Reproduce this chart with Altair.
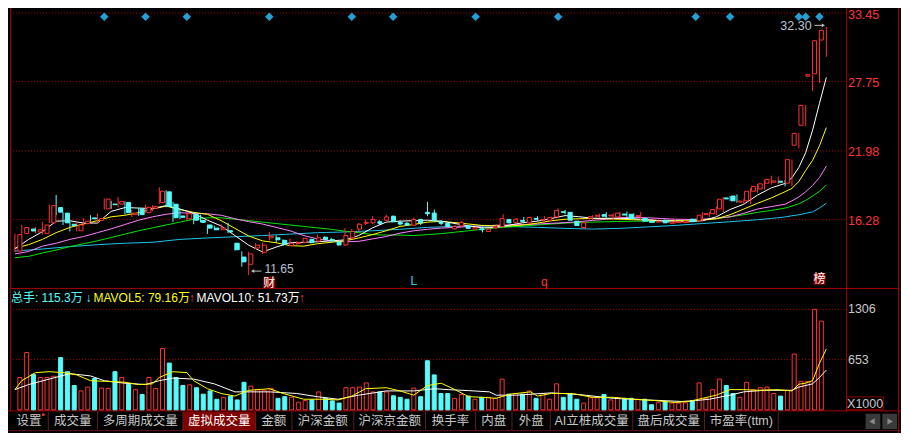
import altair as alt
import pandas as pd

# ---------------- data ----------------
opens = [13.64, 15.11, 15.47, 15.23, 15.11, 15.99, 17.26, 16.80, 15.87, 15.33,
         15.92, 16.40, 16.19, 17.15, 17.55, 17.55, 17.68, 16.67, 17.15, 16.83,
         17.20, 17.68, 18.57, 17.54, 16.56, 16.32, 16.67, 16.19, 15.81, 15.55,
         15.41, 15.33, 14.29, 13.14, 12.54, 13.89, 13.54, 14.74, 14.74, 14.53,
         14.10, 14.26, 14.37, 14.61, 14.47, 14.79, 14.61, 14.39, 14.15, 14.74,
         15.47, 15.95, 15.99, 16.08, 16.21, 16.54, 16.03, 15.95, 15.79, 16.27,
         16.86, 16.80, 16.08, 15.95, 15.49, 15.73, 15.73, 15.47, 15.49, 15.27,
         15.57, 15.68, 16.27, 16.03, 16.19, 15.99, 16.35, 16.21, 16.21, 16.48,
         16.91, 16.86, 16.13, 15.60, 16.38, 16.54, 16.67, 16.56, 16.48, 16.72,
         16.70, 16.51, 16.35, 16.11, 16.05, 16.21, 15.95, 16.01, 16.01, 16.29,
         16.16, 16.67, 16.75, 17.15, 18.06, 18.22, 17.72, 17.82, 18.62, 18.81,
         19.29, 19.37, 19.45, 19.29, 22.45, 24.11, 28.20, 28.40, 31.21]
closes = [15.01, 15.60, 15.31, 15.41, 15.81, 17.42, 16.88, 15.99, 15.76, 15.81,
          16.13, 16.32, 16.35, 17.96, 17.50, 17.76, 16.83, 16.80, 16.67, 17.28,
          17.34, 18.62, 17.36, 16.41, 16.45, 16.75, 16.21, 16.03, 15.55, 15.41,
          15.55, 15.23, 13.75, 12.74, 13.40, 14.13, 14.13, 14.87, 14.58, 14.21,
          14.29, 14.34, 14.69, 14.34, 14.74, 14.61, 14.50, 14.15, 14.93, 15.27,
          15.87, 16.03, 16.27, 15.95, 16.48, 16.08, 15.89, 15.81, 16.27, 15.99,
          16.75, 16.16, 15.95, 15.69, 15.68, 16.03, 15.53, 15.60, 15.41, 15.47,
          15.68, 16.35, 15.99, 16.29, 16.11, 16.43, 16.29, 16.27, 16.43, 17.02,
          16.86, 16.21, 15.76, 15.99, 16.50, 16.62, 16.54, 16.64, 16.80, 16.64,
          16.35, 16.59, 16.13, 16.03, 16.13, 15.99, 16.05, 16.09, 16.13, 16.08,
          16.62, 16.75, 17.10, 17.96, 17.98, 17.82, 17.80, 18.62, 19.02, 19.24,
          19.61, 19.48, 19.37, 21.25, 23.44, 25.77, 28.32, 31.15, 32.01]
highs = [15.09, 15.81, 15.57, 15.65, 16.08, 17.50, 18.30, 16.88, 16.08, 16.08,
         16.38, 16.62, 16.78, 18.02, 17.82, 18.14, 17.78, 17.10, 17.23, 17.50,
         17.47, 18.94, 18.70, 17.74, 17.15, 16.82, 16.88, 16.67, 15.85, 15.76,
         15.87, 15.99, 14.33, 13.62, 13.59, 14.29, 14.34, 15.23, 14.93, 14.61,
         14.69, 14.47, 14.77, 14.65, 15.01, 14.87, 14.74, 14.45, 15.55, 15.47,
         15.99, 16.27, 16.54, 16.21, 16.67, 16.58, 16.21, 16.05, 16.43, 16.29,
         17.74, 17.10, 16.21, 15.97, 15.81, 16.13, 15.76, 15.65, 15.68, 15.53,
         15.85, 16.70, 16.29, 16.40, 16.48, 16.50, 16.54, 16.54, 16.50, 17.20,
         17.07, 16.90, 16.17, 16.05, 16.62, 16.75, 16.88, 16.78, 16.91, 16.94,
         16.78, 16.88, 16.38, 16.13, 16.17, 16.25, 16.29, 16.13, 16.17, 16.33,
         16.88, 16.88, 17.34, 18.14, 18.22, 18.36, 17.96, 18.89, 19.21, 19.56,
         19.91, 19.83, 19.56, 21.27, 23.48, 25.81, 28.32, 31.19, 32.30]
lows = [13.56, 15.01, 15.25, 15.11, 15.01, 15.97, 16.62, 15.81, 15.27, 15.27,
        15.76, 16.08, 15.97, 17.10, 17.15, 17.28, 16.67, 16.48, 16.56, 16.83,
        16.96, 17.55, 17.28, 16.08, 16.29, 16.25, 15.87, 16.03, 15.07, 15.37,
        15.37, 15.15, 13.68, 12.34, 11.65, 13.81, 13.40, 14.53, 14.34, 14.07,
        14.05, 14.15, 14.29, 14.29, 14.34, 14.53, 14.39, 14.09, 14.07, 14.61,
        15.27, 15.81, 15.87, 15.81, 16.13, 16.05, 15.76, 15.73, 15.73, 15.81,
        16.54, 16.13, 15.81, 15.65, 15.41, 15.63, 15.49, 15.43, 15.19, 15.25,
        15.49, 15.63, 15.95, 15.95, 15.95, 15.97, 16.16, 15.99, 16.17, 16.43,
        16.70, 16.17, 15.73, 15.47, 16.21, 16.38, 16.35, 16.21, 16.43, 16.48,
        16.32, 16.21, 16.09, 15.99, 16.01, 15.97, 15.89, 15.97, 15.97, 16.05,
        16.08, 16.48, 16.62, 16.88, 17.82, 17.68, 17.55, 17.55, 18.49, 18.76,
        19.16, 19.21, 19.02, 19.02, 22.18, 24.04, 26.97, 27.64, 29.81]
volumes = [421, 746, 462, 421, 421, 437, 679, 496, 317, 246,
           296, 408, 283, 279, 496, 421, 329, 262, 200, 421,
           279, 796, 608, 421, 317, 325, 288, 204, 246, 138,
           163, 179, 129, 358, 308, 262, 254, 279, 150, 171,
           163, 100, 121, 129, 233, 150, 117, 88, 288, 288,
           296, 350, 233, 233, 233, 183, 163, 138, 283, 171,
           638, 454, 213, 213, 150, 200, 179, 138, 163, 163,
           150, 400, 204, 213, 204, 246, 150, 213, 138, 338,
           163, 204, 138, 88, 158, 158, 200, 129, 158, 150,
           150, 138, 138, 67, 92, 104, 88, 88, 92, 117,
           350, 150, 262, 400, 317, 213, 163, 358, 262, 288,
           296, 213, 179, 254, 725, 371, 371, 1306, 1153]

ma_idx = [0, 2, 4, 6, 8, 10, 12, 14, 16, 18, 20, 22, 24, 26, 28, 30, 32, 34, 36, 38,
          40, 42, 44, 46, 48, 50, 52, 54, 56, 58, 60, 62, 64, 66, 68, 70, 72, 74, 76, 78,
          80, 82, 84, 86, 88, 90, 92, 94, 96, 98, 100, 102, 104, 106, 108, 110, 112,
          113, 114, 115, 116, 117, 118]
ma5 = [13.81, 14.61, 15.25, 16.13, 16.16, 15.97, 15.97, 16.94, 17.26, 17.22,
       17.18, 17.42, 17.14, 16.78, 16.21, 15.73, 14.93, 14.13, 13.56, 13.97,
       14.33, 14.37, 14.41, 14.49, 14.57, 14.93, 15.57, 16.05, 16.13, 16.17,
       16.21, 16.13, 15.93, 15.73, 15.57, 15.61, 15.81, 16.01, 16.13, 16.35,
       16.59, 16.50, 16.37, 16.37, 16.37, 16.33, 16.25, 16.17, 16.13, 16.08,
       16.17, 16.49, 17.10, 17.54, 18.30, 18.90, 19.27,
       19.75, 20.60, 21.84, 23.70, 25.93, 28.10]
ma10 = [13.89, 14.17, 14.61, 15.17, 15.61, 15.89, 16.17, 16.49, 16.62, 16.83,
        17.14, 17.38, 17.10, 16.86, 16.70, 16.17, 15.53, 14.89, 14.49, 14.33,
        14.09, 14.05, 14.25, 14.37, 14.49, 14.73, 15.01, 15.33, 15.69, 15.85,
        16.05, 16.11, 16.01, 15.89, 15.77, 15.73, 15.73, 15.81, 15.97, 16.16,
        16.29, 16.33, 16.35, 16.33, 16.29, 16.25, 16.21, 16.17, 16.16, 16.16,
        16.21, 16.33, 16.66, 17.14, 17.62, 18.06, 18.58,
        18.86, 19.43, 20.35, 21.19, 22.40, 23.92]
ma20 = [13.40, 13.60, 14.05, 14.29, 14.61, 14.85, 15.17, 15.49, 15.85, 16.21,
        16.49, 16.70, 16.83, 16.78, 16.74, 16.62, 16.33, 16.09, 15.89, 15.61,
        15.33, 14.93, 14.65, 14.49, 14.41, 14.45, 14.65, 14.85, 15.13, 15.33,
        15.45, 15.55, 15.61, 15.68, 15.73, 15.79, 15.81, 15.85, 15.89, 15.95,
        16.00, 16.09, 16.19, 16.29, 16.41, 16.45, 16.41, 16.35, 16.29, 16.27,
        16.29, 16.37, 16.49, 16.78, 17.14, 17.34, 17.54,
        17.82, 18.14, 18.58, 19.10, 19.75, 20.71]
ma30 = [13.08, 13.20, 13.48, 13.72, 14.01, 14.25, 14.49, 14.77, 15.05, 15.33,
        15.57, 15.81, 16.05, 16.29, 16.41, 16.41, 16.29, 16.17, 16.05, 15.93,
        15.81, 15.69, 15.57, 15.45, 15.29, 15.17, 15.01, 14.97, 14.97, 14.93,
        15.01, 15.09, 15.21, 15.33, 15.45, 15.57, 15.65, 15.73, 15.81, 15.89,
        15.97, 16.01, 16.05, 16.08, 16.11, 16.13, 16.13, 16.13, 16.17, 16.21,
        16.25, 16.33, 16.49, 16.66, 16.86, 17.02, 17.22,
        17.38, 17.58, 17.86, 18.22, 18.62, 19.14]
ma60_idx = [0, 4, 8, 12, 16, 20, 24, 28, 32, 36, 40, 44, 48, 52, 56, 60, 64, 68,
            72, 76, 80, 84, 88, 92, 96, 100, 104, 108, 110, 112,
            113, 114, 115, 116, 117, 118]
ma60 = [13.64, 13.81, 14.01, 14.17, 14.29, 14.37, 14.61, 14.73, 14.83, 14.93,
        15.05, 15.17, 15.23, 15.33, 15.45, 15.61, 15.69, 15.73, 15.68, 15.61,
        15.53, 15.47, 15.53, 15.65, 15.77, 15.93, 16.08, 16.25, 16.35, 16.48,
        16.58, 16.66, 16.78, 16.90, 17.22, 17.62]

mavol5_idx = [0, 1, 3, 5, 7, 9, 11, 13, 16, 18, 20, 21, 23, 25, 26, 28, 30, 32, 34, 37,
              39, 42, 45, 47, 49, 51, 54, 56, 58, 60, 62, 64, 66, 68, 70, 72, 75, 76, 78, 81,
              84, 87, 90, 93, 96, 98, 100, 102, 104, 106, 108, 111, 113, 114, 115, 116, 117, 118]
mavol5 = [263, 379, 484, 496, 484, 454, 379, 371, 359, 329, 338, 421, 496, 484, 379, 275, 213, 179, 254, 275,
          213, 138, 138, 129, 179, 275, 288, 246, 191, 316, 346, 263, 171, 163, 150, 204, 234, 179, 213, 213,
          163, 163, 138, 121, 96, 109, 150, 191, 263, 263, 254, 263, 246, 333, 348, 380, 605, 791.6]
mavol10_idx = [0, 2, 5, 8, 11, 13, 16, 19, 21, 23, 26, 29, 32, 37, 41, 44, 47, 50, 54, 58,
               61, 63, 66, 69, 70, 73, 78, 82, 87, 92, 97, 99, 101, 104, 106, 109, 113, 114, 116, 117, 118]
mavol10 = [263, 329, 400, 471, 441, 379, 346, 329, 379, 413, 400, 338, 234, 234, 213, 171, 138, 191, 246, 246,
           275, 263, 250, 234, 191, 191, 221, 200, 150, 129, 109, 121, 138, 191, 234, 254, 254, 296, 338, 421, 517.3]

price_ticks = [16.28, 21.98, 27.75, 33.45]
vol_ticks = [653, 1306]
diamond_idx = [13, 19, 25, 37, 49, 55, 67, 79, 99, 104, 114, 115, 117]
marker_idx = [37, 58, 77, 117]
marker_txt = ["财", "L", "q", "榜"]
tabs = ["设置", "成交量", "多周期成交量", "虚拟成交量", "金额", "沪深金额", "沪深京金额",
        "换手率", "内盘", "外盘", "AI立桩成交量", "盘后成交量", "市盈率(ttm)"]
header = ["总手: 115.3万", "↓", "MAVOL5: 79.16万", "↑", "MAVOL10: 51.73万", "↑"]

# ---------------- layout ----------------
W, H = 893, 425
SX, SY = W / 909.0, H / 441.0


def X(v):
    return round(v * SX, 2)


def Y(v):
    return round(v * SY, 2)


RED = "#ff3232"
CYAN = "#54fcfc"
YEL = "#ffff00"
WHITE = "#ffffff"
PINK = "#ff80ff"
GREEN = "#00e600"
BLUE = "#1ec3ea"
FRAME = "#a00000"
GRIDC = "#b00000"
SEP = "#5a2020"
DIAM = "#249fd4"
GRAYT = "#c8c8c8"
FONT = "Liberation Sans, Noto Sans CJK SC"

xs = alt.Scale(domain=[0, 118], range=[X(7), X(833)], nice=False, zero=False)
ps = alt.Scale(domain=[16.28, 33.45], range=[Y(219.3), Y(5.3)], nice=False, zero=False)
vs = alt.Scale(domain=[0, 1306], range=[Y(417), Y(312.7)], nice=False, zero=True)

N = len(closes)
k = pd.DataFrame({"i": list(range(N)), "o": opens, "h": highs, "l": lows, "c": closes, "v": volumes})
k["dir"] = ["up" if c >= o else "down" for o, c in zip(opens, closes)]
k["top"] = k[["o", "c"]].max(axis=1)
k["bot"] = k[["o", "c"]].min(axis=1)

XI = alt.X("i:Q", scale=xs, axis=None)


def pxx(f):
    return alt.X(f, scale=None, axis=None)


def pxy(f):
    return alt.Y(f, scale=None, axis=None)


layers = []

# frame + separators
rules = pd.DataFrame([
    (2.5, 0, 2.5, 418, FRAME),
    (853.5, 0, 853.5, 418, FRAME),
    (906.5, 0, 906.5, 441, FRAME),
    (2.5, 291, 906.5, 291, FRAME),
    (0, 418, 909, 418, FRAME),
    (0, 438.5, 909, 438.5, "#6a1010"),
] + [(b, 419, b, 438, SEP) for b in [41, 91, 178, 252, 289, 352, 425, 476, 513, 552, 636, 709, 784]],
    columns=["x", "y", "x2", "y2", "col"])
rules[["x", "x2"]] = rules[["x", "x2"]] * SX
rules[["y", "y2"]] = rules[["y", "y2"]] * SY

# rects: selected tab, arrow buttons
rects = pd.DataFrame([
    (178, 419, 252, 438, "#800000"),
    (873, 421, 888, 437, "#3a3a3a"),
    (890, 421, 905, 437, "#3a3a3a"),
], columns=["x", "y", "x2", "y2", "col"])
rects[["x", "x2"]] = rects[["x", "x2"]] * SX
rects[["y", "y2"]] = rects[["y", "y2"]] * SY
layers.append(alt.Chart(rects).mark_rect().encode(
    x=pxx("x:Q"), x2="x2:Q", y=pxy("y:Q"), y2="y2:Q", color=alt.Color("col:N", scale=None)))
layers.append(alt.Chart(rules).mark_rule(strokeWidth=1).encode(
    x=pxx("x:Q"), x2="x2:Q", y=pxy("y:Q"), y2="y2:Q", color=alt.Color("col:N", scale=None)))

# X1000 box
xbox = pd.DataFrame({"x": [X(854)], "x2": [X(891)], "y": [Y(403.5)], "y2": [Y(416.5)]})
layers.append(alt.Chart(xbox).mark_rect(fill="black", stroke="#8b0000", strokeWidth=1).encode(
    x=pxx("x:Q"), x2="x2:Q", y=pxy("y:Q"), y2="y2:Q"))

# grid lines
layers.append(alt.Chart(pd.DataFrame({"p": price_ticks})).mark_rule(
    color=GRIDC, strokeDash=[1, 2], strokeWidth=1).encode(
    y=alt.Y("p:Q", scale=ps, axis=None), x=alt.value(X(5)), x2=alt.value(X(853))))
layers.append(alt.Chart(pd.DataFrame({"p": vol_ticks})).mark_rule(
    color=GRIDC, strokeDash=[1, 2], strokeWidth=1).encode(
    y=alt.Y("p:Q", scale=vs, axis=None), x=alt.value(X(5)), x2=alt.value(X(853))))


def line(idx, vals, color, scale):
    d = pd.DataFrame({"idx": idx, "val": vals})
    return alt.Chart(d).mark_line(color=color, strokeWidth=1).encode(
        x=alt.X("idx:Q", scale=xs, axis=None), y=alt.Y("val:Q", scale=scale, axis=None))


layers += [line(ma60_idx, ma60, BLUE, ps), line(ma_idx, ma30, GREEN, ps),
           line(ma_idx, ma20, PINK, ps), line(ma_idx, ma10, YEL, ps), line(ma_idx, ma5, WHITE, ps)]

# candles
layers.append(alt.Chart(k).mark_rule(strokeWidth=1).encode(
    x=XI, y=alt.Y("l:Q", scale=ps, axis=None), y2="h:Q",
    color=alt.Color("dir:N", scale=alt.Scale(domain=["up", "down"], range=[RED, CYAN]), legend=None)))
layers.append(alt.Chart(k).transform_filter("datum.dir == 'up'").mark_bar(
    size=4, fill="black", stroke=RED, strokeWidth=1).encode(
    x=XI, y=alt.Y("bot:Q", scale=ps, axis=None), y2="top:Q"))
layers.append(alt.Chart(k).transform_filter("datum.dir == 'down'").mark_bar(
    size=4, fill=CYAN, stroke=CYAN, strokeWidth=1).encode(
    x=XI, y=alt.Y("bot:Q", scale=ps, axis=None), y2="top:Q"))

# volume bars
layers.append(alt.Chart(k).transform_filter("datum.dir == 'up'").mark_bar(
    size=4, fill="black", stroke=RED, strokeWidth=1).encode(
    x=XI, y=alt.Y("v:Q", scale=vs, axis=None)))
layers.append(alt.Chart(k).transform_filter("datum.dir == 'down'").mark_bar(
    size=4, fill=CYAN, stroke=CYAN, strokeWidth=1).encode(
    x=XI, y=alt.Y("v:Q", scale=vs, axis=None)))
layers += [line(mavol10_idx, mavol10, WHITE, vs), line(mavol5_idx, mavol5, YEL, vs)]

# diamonds
layers.append(alt.Chart(pd.DataFrame({"i": diamond_idx})).mark_point(
    shape="diamond", filled=True, size=72, color=DIAM, opacity=1).encode(x=XI, y=alt.value(Y(9))))

# marker boxes + letters
mk = pd.DataFrame({"i": marker_idx, "t": marker_txt,
                   "y": [Y(285), Y(283), Y(284), Y(281)],
                   "col": [WHITE, "#2ad0f0", RED, WHITE]})
boxes = mk[mk["t"].isin(["财", "榜"])].copy()
layers.append(alt.Chart(boxes).mark_square(color="#8a0000", opacity=1, size=140).encode(
    x=XI, y=pxy("y:Q")))
layers.append(alt.Chart(mk).mark_text(font=FONT, fontSize=12, baseline="middle", align="center").encode(
    x=XI, y=pxy("y:Q"), text="t:N", color=alt.Color("col:N", scale=None)))

# price & volume axis labels
layers.append(alt.Chart(pd.DataFrame({"p": price_ticks, "t": [f"{v:.2f}" for v in price_ticks]})).mark_text(
    font=FONT, fontSize=12.5, color=RED, align="left", baseline="middle", dy=1.5).encode(
    x=alt.value(X(855)), y=alt.Y("p:Q", scale=ps, axis=None), text="t:N"))
layers.append(alt.Chart(pd.DataFrame({"p": vol_ticks, "t": [str(v) for v in vol_ticks]})).mark_text(
    font=FONT, fontSize=12.5, color=GRAYT, align="left", baseline="middle").encode(
    x=alt.value(X(855)), y=alt.Y("p:Q", scale=vs, axis=None), text="t:N"))

# high / low annotations
hi = pd.DataFrame({"i": [118], "p": [highs[118]], "t": [f"{highs[118]:.2f}"]})
lo = pd.DataFrame({"i": [34], "p": [lows[34]], "t": [f"{lows[34]:.2f}"]})
layers.append(alt.Chart(hi).mark_text(font=FONT, fontSize=12.5, color="#b8c4d0", align="right",
                                      baseline="middle", dx=-X(15), dy=-1).encode(
    x=XI, y=alt.Y("p:Q", scale=ps, axis=None), text="t:N"))
layers.append(alt.Chart(lo).mark_text(font=FONT, fontSize=12, color="#b8c4d0", align="left",
                                      baseline="middle", dx=X(16), dy=-5.5).encode(
    x=XI, y=alt.Y("p:Q", scale=ps, axis=None), text="t:N"))
arrows = pd.DataFrame([(821, 18, 830, 18), (249, 273, 258, 273)], columns=["x", "y", "x2", "y2"])
arrows[["x", "x2"]] = arrows[["x", "x2"]] * SX
arrows[["y", "y2"]] = arrows[["y", "y2"]] * SY
layers.append(alt.Chart(arrows).mark_rule(color="#c0c0c0", strokeWidth=1).encode(
    x=pxx("x:Q"), x2="x2:Q", y=pxy("y:Q"), y2="y2:Q"))
heads = pd.DataFrame({"x": [X(830), X(249), X(879.5), X(898)], "y": [Y(18), Y(273), Y(429), Y(429)],
                      "shape": ["triangle-right", "triangle-left", "triangle-left", "triangle-right"],
                      "col": ["#c0c0c0", "#c0c0c0", "#8a8a8a", "#8a8a8a"],
                      "s": [14, 14, 40, 40]})
layers.append(alt.Chart(heads).mark_point(filled=True, opacity=1).encode(
    x=pxx("x:Q"), y=pxy("y:Q"), shape=alt.Shape("shape:N", scale=None),
    color=alt.Color("col:N", scale=None), size=alt.Size("s:Q", scale=None)))

# volume header
hd = pd.DataFrame({"x": [X(v) for v in [3, 79, 87, 184, 192, 296]], "y": [Y(301)] * 6, "t": header,
                   "col": [CYAN, CYAN, YEL, RED, WHITE, RED]})
layers.append(alt.Chart(hd).mark_text(font=FONT, fontSize=12, align="left", baseline="middle").encode(
    x=pxx("x:Q"), y=pxy("y:Q"), text="t:N", color=alt.Color("col:N", scale=None)))

# tabs
bounds = [2, 41, 91, 178, 252, 289, 352, 425, 476, 513, 552, 636, 709, 784]
tb = pd.DataFrame({"x": [X((bounds[j] + bounds[j + 1]) / 2) for j in range(len(tabs))],
                   "y": [Y(429)] * len(tabs), "t": tabs,
                   "col": [WHITE if t == "虚拟成交量" else GRAYT for t in tabs]})
layers.append(alt.Chart(tb).mark_text(font=FONT, fontSize=12.5, align="center", baseline="middle").encode(
    x=pxx("x:Q"), y=pxy("y:Q"), text="t:N", color=alt.Color("col:N", scale=None)))
layers.append(alt.Chart(pd.DataFrame({"x": [X(36)], "y": [Y(422)]})).mark_point(
    filled=True, color=RED, size=8, opacity=1).encode(x=pxx("x:Q"), y=pxy("y:Q")))
layers.append(alt.Chart(pd.DataFrame({"x": [X(872.5)], "y": [Y(410.5)], "t": ["X1000"]})).mark_text(
    font=FONT, fontSize=12.5, color=GRAYT, align="center", baseline="middle").encode(
    x=pxx("x:Q"), y=pxy("y:Q"), text="t:N"))

chart = alt.layer(*layers).resolve_scale(
    x="independent", y="independent", color="independent", size="independent", shape="independent"
).properties(
    width=W, height=H, autosize=alt.AutoSizeParams(type="none"), padding=0
).configure(background="black").configure_view(stroke=None)

chart.save("out.html", embed_options={"renderer": "svg", "actions": False})
